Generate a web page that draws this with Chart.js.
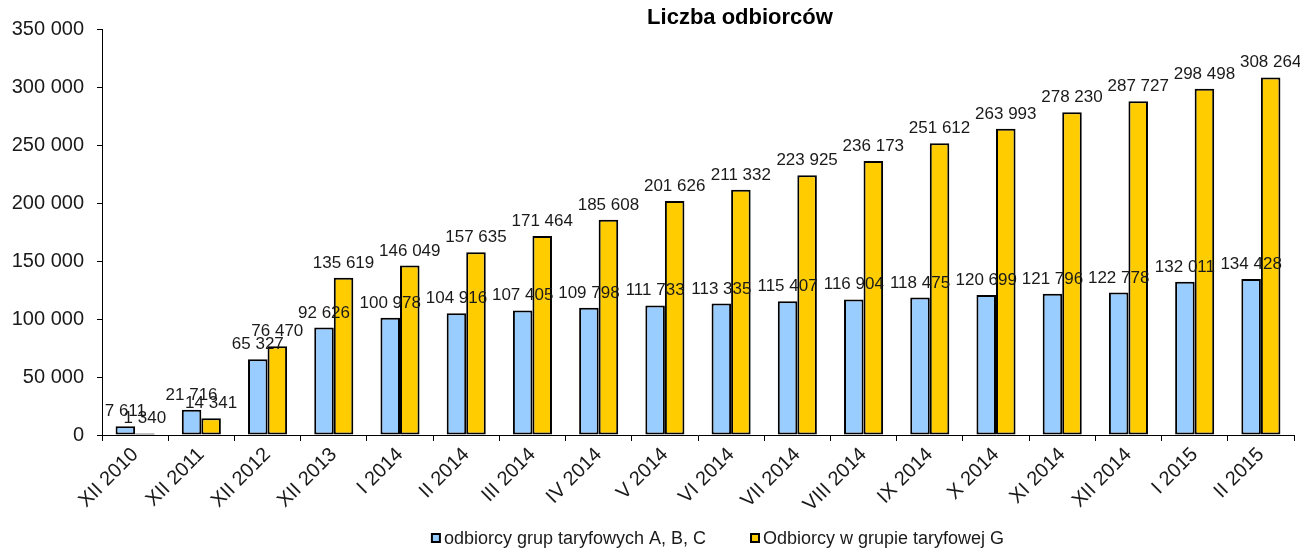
<!DOCTYPE html>
<html>
<head>
<meta charset="utf-8">
<script src="https://cdn.jsdelivr.net/npm/chart.js@4/dist/chart.umd.min.js"></script>
<style>
  html, body { margin: 0; padding: 0; background: #fff; }
  #wrap { width: 1300px; height: 549px; }
</style>
</head>
<body>
<div id="wrap"><canvas id="myChart"></canvas></div>
<script>
// dane
const labels = ["XII 2010", "XII 2011", "XII 2012", "XII 2013", "I 2014", "II 2014", "III 2014", "IV 2014", "V 2014",
  "VI 2014", "VII 2014", "VIII 2014", "IX 2014", "X 2014", "XI 2014", "XII 2014", "I 2015", "II 2015"];

const odbiorcyABC = [7611, 21716, 65327, 92626, 100978, 104916, 107405, 109798, 111733,
  113335, 115407, 116904, 118475, 120699, 121796, 122778, 132011, 134428];

const odbiorcyG = [1340, 14341, 76470, 135619, 146049, 157635, 171464, 185608, 201626,
  211332, 223925, 236173, 251612, 263993, 278230, 287727, 298498, 308264];

const yTicks = [0, 50000, 100000, 150000, 200000, 250000, 300000, 350000];

const tytul = "Liczba odbiorców";

const FONT = "'Liberation Sans', Arial, sans-serif";

// format 12 345
function fmt(v) {
  return String(v).replace(/\B(?=(\d{3})+(?!\d))/g, " ");
}

// etykiety nad słupkami
const etykiety = {
  id: "etykiety",
  afterDatasetsDraw(chart) {
    const ctx = chart.ctx;
    ctx.save();
    ctx.font = "17px " + FONT;
    ctx.fillStyle = "#1a1a1a";
    ctx.textAlign = "center";
    ctx.textBaseline = "alphabetic";
    chart.data.datasets.forEach((ds, i) => {
      chart.getDatasetMeta(i).data.forEach((bar, j) => {
        ctx.fillText(fmt(ds.data[j]), bar.x, bar.y - 10);
      });
    });
    ctx.restore();
  },
};

// tytuł + legenda
const tytulLegenda = {
  id: "tytulLegenda",
  afterDraw(chart) {
    const ctx = chart.ctx;
    ctx.save();
    ctx.font = "bold 22px " + FONT;
    ctx.fillStyle = "#000";
    ctx.textAlign = "center";
    ctx.textBaseline = "middle";
    ctx.fillText(tytul, 740, 18);

    // legenda
    ctx.font = "18px " + FONT;
    ctx.textAlign = "left";
    const ds = chart.data.datasets;
    const box = 8, gap = 4, odstep = 45;
    let total = 0;
    ds.forEach((d, i) => {
      total += box + gap + ctx.measureText(d.label).width + (i > 0 ? odstep : 0);
    });
    let x = 718 - total / 2;
    const y = 538;
    ds.forEach((d) => {
      ctx.fillStyle = d.backgroundColor;
      ctx.fillRect(x, y - box / 2, box, box);
      ctx.strokeStyle = "#000";
      ctx.lineWidth = 2;
      ctx.strokeRect(x, y - box / 2, box, box);
      ctx.fillStyle = "#1a1a1a";
      ctx.fillText(d.label, x + box + gap, y + 1);
      x += box + gap + ctx.measureText(d.label).width + odstep;
    });
    ctx.restore();
  },
};

const data = {
  labels: labels,
  datasets: [
    {
      label: "odbiorcy grup taryfowych A, B, C",
      backgroundColor: "#99CCFF",
      borderColor: "#000",
      borderWidth: 2,
      borderSkipped: false,
      data: odbiorcyABC,
    },
    {
      label: "Odbiorcy w grupie taryfowej G",
      backgroundColor: "#FFCC00",
      borderColor: "#000",
      borderWidth: 2,
      borderSkipped: false,
      data: odbiorcyG,
    },
  ],
};

const config = {
  type: "bar",
  data: data,
  plugins: [etykiety, tytulLegenda],
  options: {
    responsive: true,
    maintainAspectRatio: false,
    animation: false,
    categoryPercentage: 0.59,
    barPercentage: 1,
    layout: { padding: { top: 29, right: 6, left: 0, bottom: 34 } },
    plugins: {
      title: { display: false },
      tooltip: { enabled: false },
      legend: { display: false },
    },
    scales: {
      x: {
        grid: { display: true, drawOnChartArea: false, color: "#000", tickLength: 6 },
        border: { color: "#000", width: 1 },
        ticks: {
          color: "#1a1a1a",
          font: { size: 20, family: FONT },
          minRotation: 45,
          maxRotation: 45,
          autoSkip: false,
          padding: 2,
        },
        afterFit(scale) { scale.height = 80; },
      },
      y: {
        min: 0,
        max: 350000,
        grid: { display: true, drawOnChartArea: false, color: "#000", tickLength: 5 },
        border: { color: "#000", width: 1 },
        afterBuildTicks(scale) { scale.ticks = yTicks.map((v) => ({ value: v })); },
        ticks: {
          color: "#1a1a1a",
          font: { size: 20, family: FONT },
          padding: 13,
          callback: (v) => fmt(v),
        },
        afterFit(scale) { scale.width = 102; },
      },
    },
  },
};

const myChart = new Chart(document.getElementById("myChart"), config);
</script>
</body>
</html>
